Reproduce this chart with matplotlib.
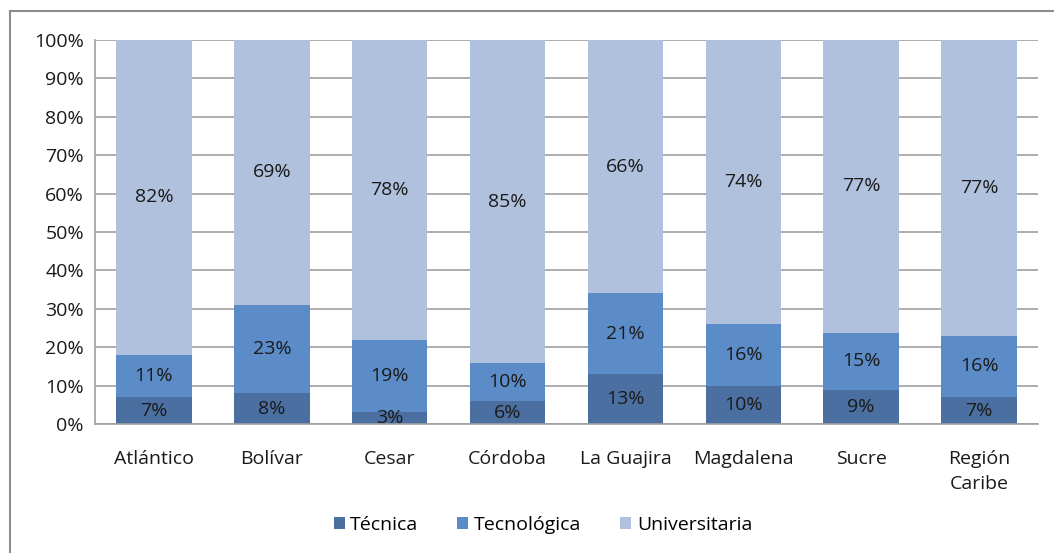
import matplotlib.pyplot as plt
import numpy as np
from matplotlib.patches import Rectangle

plt.rcParams['font.family'] = ['Open Sans', 'DejaVu Sans']

regiones = ["Atlántico", "Bolívar", "Cesar", "Córdoba", "La Guajira",
            "Magdalena", "Sucre", "Región\nCaribe"]
tecnica = [7, 8, 3, 6, 13, 10, 9, 7]
tecnologica = [11, 23, 19, 10, 21, 16, 15, 16]
universitaria = [82, 69, 78, 85, 66, 74, 77, 77]

series = ["Técnica", "Tecnológica", "Universitaria"]
colores = ["#4A6FA0", "#5B8CC8", "#B0C1DD"]
fs = 14

fig = plt.figure(figsize=(10.54, 5.53), dpi=100)
ax = fig.add_axes([95 / 1054, 1 - 424 / 553, (1038 - 95) / 1054, (424 - 40) / 553])

# outer chart border (cropped on right/bottom)
fig.add_artist(Rectangle((10 / 1054, -0.1), 1.2, 1 - 11 / 553 + 0.1,
                         transform=fig.transFigure, fill=False,
                         edgecolor="#8c8c8c", linewidth=1.5))

x = np.arange(len(regiones))
data = np.array([tecnica, tecnologica, universitaria], dtype=float)
shares = data / data.sum(axis=0) * 100

bottom = np.zeros(len(regiones))
for i, nombre in enumerate(series):
    bars = ax.bar(x, shares[i], 0.64, bottom=bottom, color=colores[i],
                  label=nombre, zorder=2)
    for j, b in enumerate(bars):
        yc = bottom[j] + shares[i][j] / 2
        ax.text(b.get_x() + b.get_width() / 2, yc, f"{data[i][j]:.0f}%",
                ha="center", va="center", fontsize=fs, color="#1a1a1a",
                zorder=3)
    bottom += shares[i]

ax.set_xlim(-0.5, len(regiones) - 0.5)
ax.set_ylim(0, 100)
ax.set_yticks(np.arange(0, 101, 10))
ax.set_yticklabels([f"{v}%" for v in range(0, 101, 10)], fontsize=fs)
ax.set_xticks(x)
ax.set_xticklabels(regiones, fontsize=fs, linespacing=1.45)
ax.tick_params(axis="both", length=0, colors="#1a1a1a")
ax.tick_params(axis="x", pad=19)
ax.tick_params(axis="y", pad=8)
ax.grid(axis="y", color="#a0a0a0", linewidth=1.2, zorder=0)
for s in ["top", "right"]:
    ax.spines[s].set_visible(False)
for s in ["left", "bottom"]:
    ax.spines[s].set_color("#a0a0a0")
    ax.spines[s].set_linewidth(1.2)

fig.legend(loc="center", bbox_to_anchor=(543 / 1054, 1 - 525 / 553),
           ncol=3, frameon=False, fontsize=fs, handlelength=0.55,
           handleheight=0.55, handletextpad=0.3, columnspacing=2.0)

fig.savefig("out.png", dpi=100)
